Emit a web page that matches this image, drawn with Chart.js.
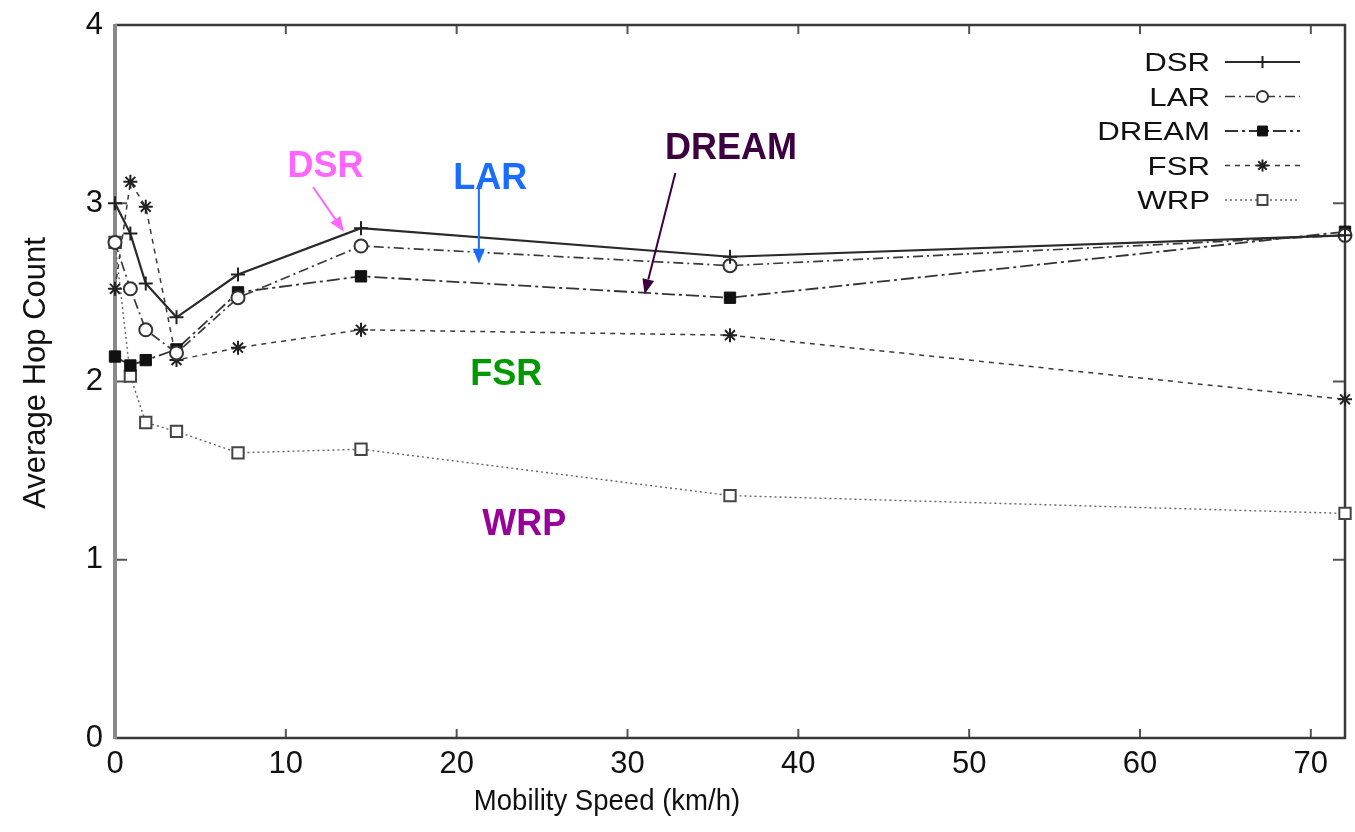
<!DOCTYPE html>
<html>
<head>
<meta charset="utf-8">
<title>Average Hop Count vs Mobility Speed</title>
<script src="https://cdn.jsdelivr.net/npm/chart.js@4.4.1/dist/chart.umd.min.js"></script>
<style>
  html, body { margin: 0; padding: 0; background: #fff; }
  canvas { display: block; }
</style>
</head>
<body>
<canvas id="hops" width="1355" height="832"></canvas>
<script>
// mobility speeds (km/h) and average hop count per protocol
const speeds = [0, 0.9, 1.8, 3.6, 7.2, 14.4, 36, 72];
const dsrHops = [3.00, 2.83, 2.55, 2.36, 2.60, 2.86, 2.70, 2.82];
const larHops = [2.78, 2.52, 2.29, 2.16, 2.47, 2.76, 2.65, 2.82];
const dreamHops = [2.14, 2.09, 2.12, 2.18, 2.50, 2.59, 2.47, 2.84];
const fsrHops = [2.52, 3.12, 2.98, 2.12, 2.19, 2.29, 2.26, 1.90];
const wrpHops = [2.78, 2.03, 1.77, 1.72, 1.60, 1.62, 1.36, 1.26];

const xTicks = [0, 10, 20, 30, 40, 50, 60, 70];
const yTicks = [0, 1, 2, 3, 4];

const FONT = "'Liberation Sans', Arial, Helvetica, sans-serif";

const toPoints = vals => speeds.map((s, i) => ({ x: s, y: vals[i] }));

const datasets = [
    { label: 'DSR', data: toPoints(dsrHops), borderColor: '#2a2a2a', borderWidth: 2.2, borderDash: [],
      pointStyle: 'cross', pointRadius: 7, pointBorderWidth: 2, pointBorderColor: '#222', pointBackgroundColor: '#222' },
    { label: 'LAR', data: toPoints(larHops), borderColor: '#3a3a3a', borderWidth: 1.7, borderDash: [10, 4, 2, 4],
      pointStyle: 'circle', pointRadius: 6.5, pointBorderWidth: 2, pointBorderColor: '#333', pointBackgroundColor: '#fff' },
    { label: 'DREAM', data: toPoints(dreamHops), borderColor: '#333', borderWidth: 1.8, borderDash: [13, 4, 3, 4],
      pointStyle: 'rect', pointRadius: 8, pointBorderWidth: 1, pointBorderColor: '#111', pointBackgroundColor: '#111' },
    { label: 'FSR', data: toPoints(fsrHops), borderColor: '#3a3a3a', borderWidth: 1.5, borderDash: [5, 5],
      pointStyle: 'star', pointRadius: 7, pointBorderWidth: 2, pointBorderColor: '#222', pointBackgroundColor: '#222' },
    { label: 'WRP', data: toPoints(wrpHops), borderColor: '#666', borderWidth: 1.4, borderDash: [2, 3],
      pointStyle: 'rect', pointRadius: 8, pointBorderWidth: 2, pointBorderColor: '#444', pointBackgroundColor: '#fff' }
];

// coloured callouts, placed in data coordinates
const callouts = [
    { text: 'DSR', color: '#ff66ff', x: 10.1, y: 3.15, arrow: [11.6, 3.09, 13.4, 2.84] },
    { text: 'LAR', color: '#1a6cff', x: 19.8, y: 3.08, arrow: [21.3, 3.09, 21.3, 2.66] },
    { text: 'DREAM', color: '#3c0040', x: 32.2, y: 3.25, arrow: [32.8, 3.17, 31.0, 2.49] },
    { text: 'FSR', color: '#009a00', x: 20.8, y: 1.98 },
    { text: 'WRP', color: '#990099', x: 21.5, y: 1.14 }
];

function stretchText(ctx, text, x, y, font, color, align, sx) {
    ctx.save();
    ctx.translate(x, y);
    ctx.scale(sx, 1);
    ctx.font = font;
    ctx.fillStyle = color;
    ctx.textAlign = align;
    ctx.textBaseline = 'alphabetic';
    ctx.fillText(text, 0, 0);
    ctx.restore();
}

function drawArrow(ctx, x1, y1, x2, y2, color) {
    const ang = Math.atan2(y2 - y1, x2 - x1);
    const head = 15, half = 6;
    ctx.save();
    ctx.strokeStyle = color;
    ctx.fillStyle = color;
    ctx.lineWidth = 2;
    ctx.beginPath();
    ctx.moveTo(x1, y1);
    ctx.lineTo(x2 - head * Math.cos(ang), y2 - head * Math.sin(ang));
    ctx.stroke();
    ctx.beginPath();
    ctx.moveTo(x2, y2);
    ctx.lineTo(x2 - head * Math.cos(ang) + half * Math.sin(ang), y2 - head * Math.sin(ang) - half * Math.cos(ang));
    ctx.lineTo(x2 - head * Math.cos(ang) - half * Math.sin(ang), y2 - head * Math.sin(ang) + half * Math.cos(ang));
    ctx.closePath();
    ctx.fill();
    ctx.restore();
}

// gnuplot style box with inward ticks on all four sides
const framePlugin = {
    id: 'frame',
    beforeDatasetsDraw(chart) {
        const { ctx, chartArea: a, scales } = chart;
        ctx.save();
        ctx.strokeStyle = '#555';
        ctx.lineWidth = 2;
        ctx.beginPath();
        scales.x.ticks.forEach(t => {
            const px = scales.x.getPixelForValue(t.value);
            if (t.value === 0) return;
            ctx.moveTo(px, a.bottom); ctx.lineTo(px, a.bottom - 9);
            ctx.moveTo(px, a.top); ctx.lineTo(px, a.top + 9);
        });
        scales.y.ticks.forEach(t => {
            const py = scales.y.getPixelForValue(t.value);
            if (t.value === 0 || t.value === 4) return;
            ctx.moveTo(a.left, py); ctx.lineTo(a.left + 12, py);
            ctx.moveTo(a.right, py); ctx.lineTo(a.right - 12, py);
        });
        ctx.stroke();

        ctx.strokeStyle = '#3a3a3a';
        ctx.lineWidth = 2.5;
        ctx.beginPath();
        ctx.moveTo(a.left, a.top); ctx.lineTo(a.right, a.top);
        ctx.lineTo(a.right, a.bottom); ctx.lineTo(a.left, a.bottom);
        ctx.stroke();
        ctx.strokeStyle = '#8a8a8a';
        ctx.lineWidth = 4;
        ctx.beginPath();
        ctx.moveTo(a.left, a.top - 1); ctx.lineTo(a.left, a.bottom + 1);
        ctx.stroke();
        ctx.restore();
    },
    afterDraw(chart) {
        const { ctx, chartArea: a, scales } = chart;

        // axis titles
        stretchText(ctx, 'Mobility Speed (km/h)', a.left + 0.4 * (a.right - a.left), a.bottom + 72,
            `29px ${FONT}`, '#111', 'center', 0.95);
        ctx.save();
        ctx.translate(34, 373);
        ctx.rotate(-Math.PI / 2);
        stretchText(ctx, 'Average Hop Count', 0, 11, `31px ${FONT}`, '#111', 'center', 1.0);
        ctx.restore();

        // legend: right aligned names, line sample with marker
        const textRight = a.right - 135, lineL = a.right - 120, lineR = a.right - 45;
        chart.data.datasets.forEach((ds, i) => {
            const y = a.top + 37 + i * 34.5;
            stretchText(ctx, ds.label, textRight, y + 9, `26px ${FONT}`, '#111', 'right', 1.2);
            ctx.save();
            ctx.strokeStyle = ds.borderColor;
            ctx.lineWidth = ds.borderWidth;
            ctx.setLineDash(ds.borderDash);
            ctx.beginPath();
            ctx.moveTo(lineL, y); ctx.lineTo(lineR, y);
            ctx.stroke();
            ctx.setLineDash([]);
            ctx.fillStyle = ds.pointBackgroundColor;
            ctx.strokeStyle = ds.pointBorderColor;
            ctx.lineWidth = ds.pointBorderWidth;
            Chart.helpers.drawPoint(ctx, {
                pointStyle: ds.pointStyle, radius: ds.pointRadius - 1, rotation: 0,
                borderWidth: ds.pointBorderWidth
            }, (lineL + lineR) / 2, y);
            ctx.restore();
        });

        // callouts
        callouts.forEach(c => {
            const px = scales.x.getPixelForValue(c.x), py = scales.y.getPixelForValue(c.y);
            stretchText(ctx, c.text, px, py, `bold 36px ${FONT}`, c.color, 'left', 1.0);
            if (c.arrow) {
                drawArrow(ctx,
                    scales.x.getPixelForValue(c.arrow[0]), scales.y.getPixelForValue(c.arrow[1]),
                    scales.x.getPixelForValue(c.arrow[2]), scales.y.getPixelForValue(c.arrow[3]), c.color);
            }
        });
    }
};

new Chart(document.getElementById('hops').getContext('2d'), {
    type: 'line',
    data: { datasets },
    options: {
        responsive: false,
        animation: false,
        devicePixelRatio: 1,
        layout: { padding: { top: 25, right: 6, left: 0, bottom: 0 } },
        datasets: { line: { clip: false, fill: false, tension: 0 } },
        plugins: { legend: { display: false }, tooltip: { enabled: false } },
        scales: {
            x: {
                type: 'linear', min: 0, max: 72,
                grid: { display: false },
                border: { display: false },
                afterBuildTicks: s => { s.ticks = xTicks.map(v => ({ value: v })); },
                afterFit: s => { s.height = 94; s.paddingLeft = 0; s.paddingRight = 0; },
                ticks: { color: '#111', padding: 0, maxRotation: 0, font: { family: FONT, size: 31 } }
            },
            y: {
                type: 'linear', min: 0, max: 4,
                grid: { display: false },
                border: { display: false },
                afterBuildTicks: s => { s.ticks = yTicks.map(v => ({ value: v })); },
                afterFit: s => { s.width = 115; s.paddingTop = 0; s.paddingBottom = 0; },
                ticks: { color: '#111', padding: 4, font: { family: FONT, size: 31 } }
            }
        }
    },
    plugins: [framePlugin]
});
</script>
</body>
</html>
